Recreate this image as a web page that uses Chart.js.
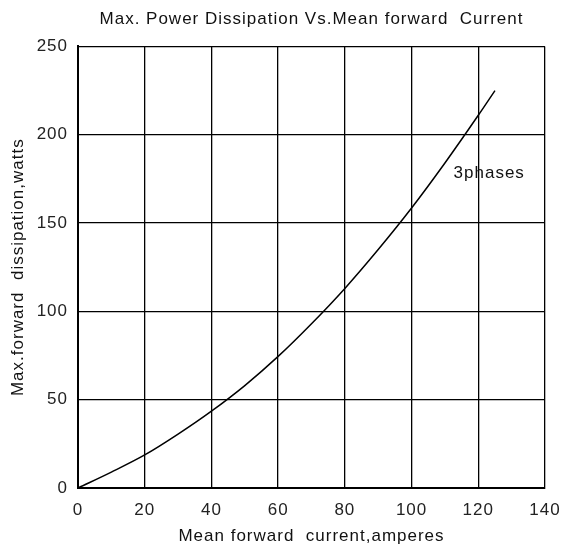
<!DOCTYPE html>
<html>
<head>
<meta charset="utf-8">
<script src="https://cdn.jsdelivr.net/npm/chart.js@4.4.1/dist/chart.umd.min.js"></script>
<style>
  html, body { margin: 0; padding: 0; background: #fff; }
  canvas { display: block; }
</style>
</head>
<body>
<canvas id="powerChart" width="561" height="551"></canvas>
<script>
// data
var currentValues = [0, 10, 20, 30, 40, 50, 60, 70, 80, 90, 100, 110, 120, 125];
var powerValues = [0, 9, 18.7, 30.5, 43.5, 58, 74.5, 93, 113, 135, 158.5, 184, 211, 225];
var curveLabel = "3phases";
var labelPos = [112.6, 178];

var points = currentValues.map(function (x, i) { return { x: x, y: powerValues[i] }; });

var fontFam = "'Liberation Sans', Arial, sans-serif";

// the original text is spaced a little wider than plain Arial
var spacing = {
  id: "spacing",
  beforeLayout: function (chart) { chart.ctx.letterSpacing = "1px"; },
  beforeDraw: function (chart) { chart.ctx.letterSpacing = "1px"; }
};

// writes the curve name next to the line
var curveText = {
  id: "curveText",
  afterDatasetsDraw: function (chart) {
    var ctx = chart.ctx;
    var px = chart.scales.x.getPixelForValue(labelPos[0]);
    var py = chart.scales.y.getPixelForValue(labelPos[1]);
    ctx.save();
    ctx.font = "17px " + fontFam;
    ctx.fillStyle = "#111";
    ctx.textAlign = "left";
    ctx.textBaseline = "middle";
    ctx.fillText(curveLabel, px, py);
    ctx.restore();
  }
};

new Chart("powerChart", {
  type: "line",
  data: {
    datasets: [{
      data: points,
      borderColor: "#000",
      borderWidth: 1.5,
      pointRadius: 0,
      cubicInterpolationMode: "monotone",
      fill: false
    }]
  },
  options: {
    responsive: false,
    animation: false,
    layout: { padding: { top: 0, right: 16, bottom: 0, left: 0 } },
    plugins: {
      legend: { display: false },
      tooltip: { enabled: false },
      title: {
        display: true,
        fullSize: false,
        text: "Max. Power Dissipation Vs.Mean forward  Current",
        color: "#111",
        font: { family: fontFam, size: 17, weight: "normal" },
        padding: { top: 9, bottom: 17 }
      }
    },
    scales: {
      x: {
        type: "linear",
        min: 0,
        max: 140,
        ticks: { stepSize: 20, color: "#222", padding: 12, font: { family: fontFam, size: 17 } },
        grid: { color: "#000", lineWidth: 1.3, drawTicks: false },
        border: { color: "#000", width: 2 },
        title: {
          display: true,
          text: "Mean forward  current,amperes",
          color: "#111",
          font: { family: fontFam, size: 17 },
          padding: { top: 0, bottom: 4 }
        },
        afterFit: function (s) { s.height = 63; s.paddingLeft = 0; s.paddingRight = 0; }
      },
      y: {
        min: 0,
        max: 250,
        ticks: { stepSize: 50, color: "#222", padding: 10, font: { family: fontFam, size: 17 } },
        grid: { color: "#000", lineWidth: 1.3, drawTicks: false },
        border: { color: "#000", width: 2 },
        title: {
          display: true,
          text: "Max.forward  dissipation,watts",
          color: "#111",
          font: { family: fontFam, size: 17 },
          padding: { top: 8, bottom: 0 }
        },
        afterFit: function (s) { s.width = 78; s.paddingTop = 0; s.paddingBottom = 0; }
      }
    }
  },
  plugins: [spacing, curveText]
});
</script>
</body>
</html>
